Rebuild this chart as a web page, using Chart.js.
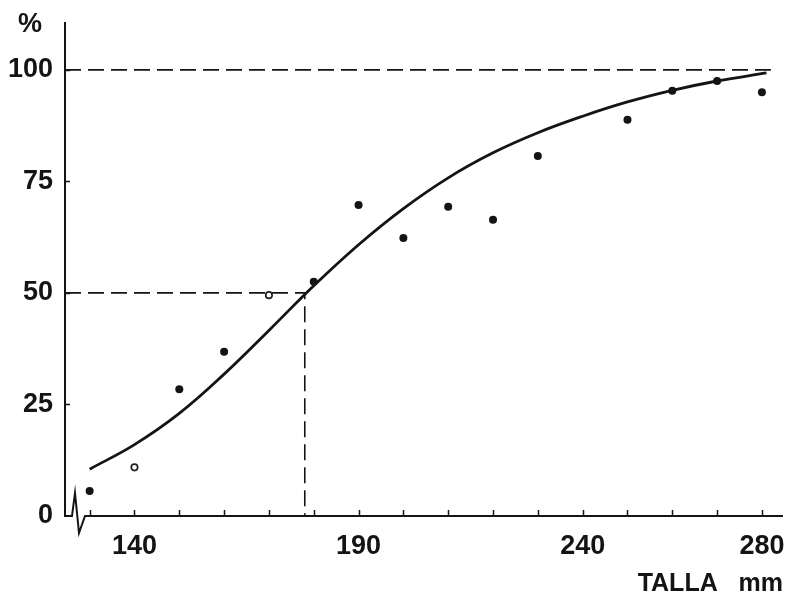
<!DOCTYPE html>
<html>
<head>
<meta charset="utf-8">
<script src="https://cdn.jsdelivr.net/npm/chart.js@4/dist/chart.umd.min.js"></script>
<style>
  body { margin: 0; background: #fff; }
  #wrap { width: 790px; height: 600px; }
</style>
</head>
<body>
<div id="wrap"><canvas id="chart" width="790" height="600"></canvas></div>
<script>
// ── Data ───────────────────────────────────────────────────────────
const X_TICKS  = [130, 140, 150, 160, 170, 180, 190, 200, 210, 220, 230, 240, 250, 260, 270, 280];
const X_LABELS = [140, 190, 240, 280];
const Y_TICKS  = [0, 25, 50, 75, 100];

// observed points, filled
const PTS_X = [130, 150, 160, 180, 190, 200, 210, 220, 230, 250, 260, 270, 280];
const PTS_Y = [5.6, 28.4, 36.8, 52.5, 69.7, 62.3, 69.3, 66.4, 80.7, 88.8, 95.3, 97.5, 95.0];

// observed points, open circles
const OPEN_X = [140, 170];
const OPEN_Y = [10.9, 49.5];

// fitted curve
const CURVE_X = [130, 140, 150, 160, 170, 180, 190, 200, 210, 220, 230, 240, 250, 260, 270, 281];
const CURVE_Y = [10.5, 16.0, 23.0, 31.8, 41.6, 51.6, 60.8, 68.9, 75.8, 81.4, 85.9, 89.6, 92.8, 95.4, 97.5, 99.3];

// reference lines
const L50      = 178;     // size at 50 %
const X_START  = 124.5;   // left end of x axis
const X_END    = 284.7;
const REF_END  = 282;     // end of the 100 % dashed line
const Y_MAX    = 110.5;

const FONT = '"Liberation Sans", Arial, Helvetica, sans-serif';
const INK  = '#141414';
const DASH = [16, 7];

const xy = (xs, ys) => xs.map((x, i) => ({ x, y: ys[i] }));

// ── Axes, tick marks, break symbol, "%" ────────────────────────────
const axisPlugin = {
  id: 'axisDeco',
  afterDraw(chart) {
    const { ctx, chartArea: { left, right }, scales: { x, y } } = chart;
    const y0 = y.getPixelForValue(0);
    ctx.save();
    ctx.strokeStyle = INK;
    ctx.lineJoin = 'miter';

    // x axis with break zigzag near the origin
    ctx.lineWidth = 2;
    ctx.beginPath();
    ctx.moveTo(left - 1, y0);
    ctx.lineTo(left + 7, y0);
    ctx.lineTo(left + 10, y0 - 23);
    ctx.lineTo(left + 14, y0 + 17);
    ctx.lineTo(left + 20, y0);
    ctx.lineTo(right, y0);
    ctx.stroke();

    // tick marks pointing into the plot
    ctx.lineWidth = 1.5;
    ctx.beginPath();
    X_TICKS.forEach(v => {
      const px = Math.round(x.getPixelForValue(v)) + 0.5;
      ctx.moveTo(px, y0);
      ctx.lineTo(px, y0 - 6);
    });
    Y_TICKS.slice(1).forEach(v => {
      const py = Math.round(y.getPixelForValue(v)) + 0.5;
      ctx.moveTo(left, py);
      ctx.lineTo(left + 5, py);
    });
    ctx.stroke();

    // unit label on top of the y axis
    ctx.fillStyle = INK;
    ctx.font = 'bold 27px ' + FONT;
    ctx.textAlign = 'center';
    ctx.textBaseline = 'middle';
    ctx.fillText('%', 30, 25);
    ctx.restore();
  }
};

// ── Chart ──────────────────────────────────────────────────────────
new Chart(document.getElementById('chart').getContext('2d'), {
  type: 'scatter',
  data: {
    datasets: [
      { type: 'line', label: 'curve', data: xy(CURVE_X, CURVE_Y),
        borderColor: INK, borderWidth: 2.8, pointRadius: 0,
        tension: 0.4, fill: false },
      { label: 'filled', data: xy(PTS_X, PTS_Y),
        pointRadius: 4, backgroundColor: INK, borderWidth: 0 },
      { label: 'open', data: xy(OPEN_X, OPEN_Y),
        pointRadius: 3.2, backgroundColor: '#fff', borderColor: '#222', borderWidth: 1.7 },
      { type: 'line', label: 'ref100', data: [{ x: X_START, y: 100 }, { x: REF_END, y: 100 }],
        borderColor: INK, borderWidth: 1.6, borderDash: DASH, pointRadius: 0, tension: 0 },
      { type: 'line', label: 'ref50', data: [{ x: X_START, y: 50 }, { x: L50, y: 50 }, { x: L50, y: 0 }],
        borderColor: INK, borderWidth: 1.6, borderDash: DASH, pointRadius: 0, tension: 0 }
    ]
  },
  options: {
    responsive: false, animation: false,
    layout: { padding: { top: 23, right: 7, left: 0, bottom: 0 } },
    plugins: { legend: { display: false }, tooltip: { enabled: false } },
    scales: {
      x: {
        type: 'linear', position: 'bottom', min: X_START, max: X_END,
        afterBuildTicks: s => { s.ticks = X_TICKS.map(v => ({ value: v })); },
        afterFit: s => { s.height = 84; s.paddingLeft = 0; s.paddingRight = 0; },
        grid: { display: false, drawTicks: false },
        border: { display: false },
        ticks: {
          autoSkip: false, maxRotation: 0, padding: 14, color: INK,
          font: { family: FONT, size: 27, weight: 'bold' },
          callback: v => X_LABELS.includes(v) ? String(v) : ''
        },
        title: {
          display: true, text: 'TALLA   mm', align: 'end', color: INK,
          font: { family: FONT, size: 25, weight: 'bold' },
          padding: { top: 0, bottom: 1 }
        }
      },
      y: {
        min: 0, max: Y_MAX,
        afterBuildTicks: s => { s.ticks = Y_TICKS.map(v => ({ value: v })); },
        afterFit: s => { s.width = 65; s.paddingTop = 0; s.paddingBottom = 0; },
        grid: { display: false, drawTicks: false },
        border: { display: true, color: INK, width: 2 },
        ticks: {
          padding: 12, color: INK,
          font: { family: FONT, size: 27, weight: 'bold' }
        }
      }
    }
  },
  plugins: [axisPlugin]
});
</script>
</body>
</html>
